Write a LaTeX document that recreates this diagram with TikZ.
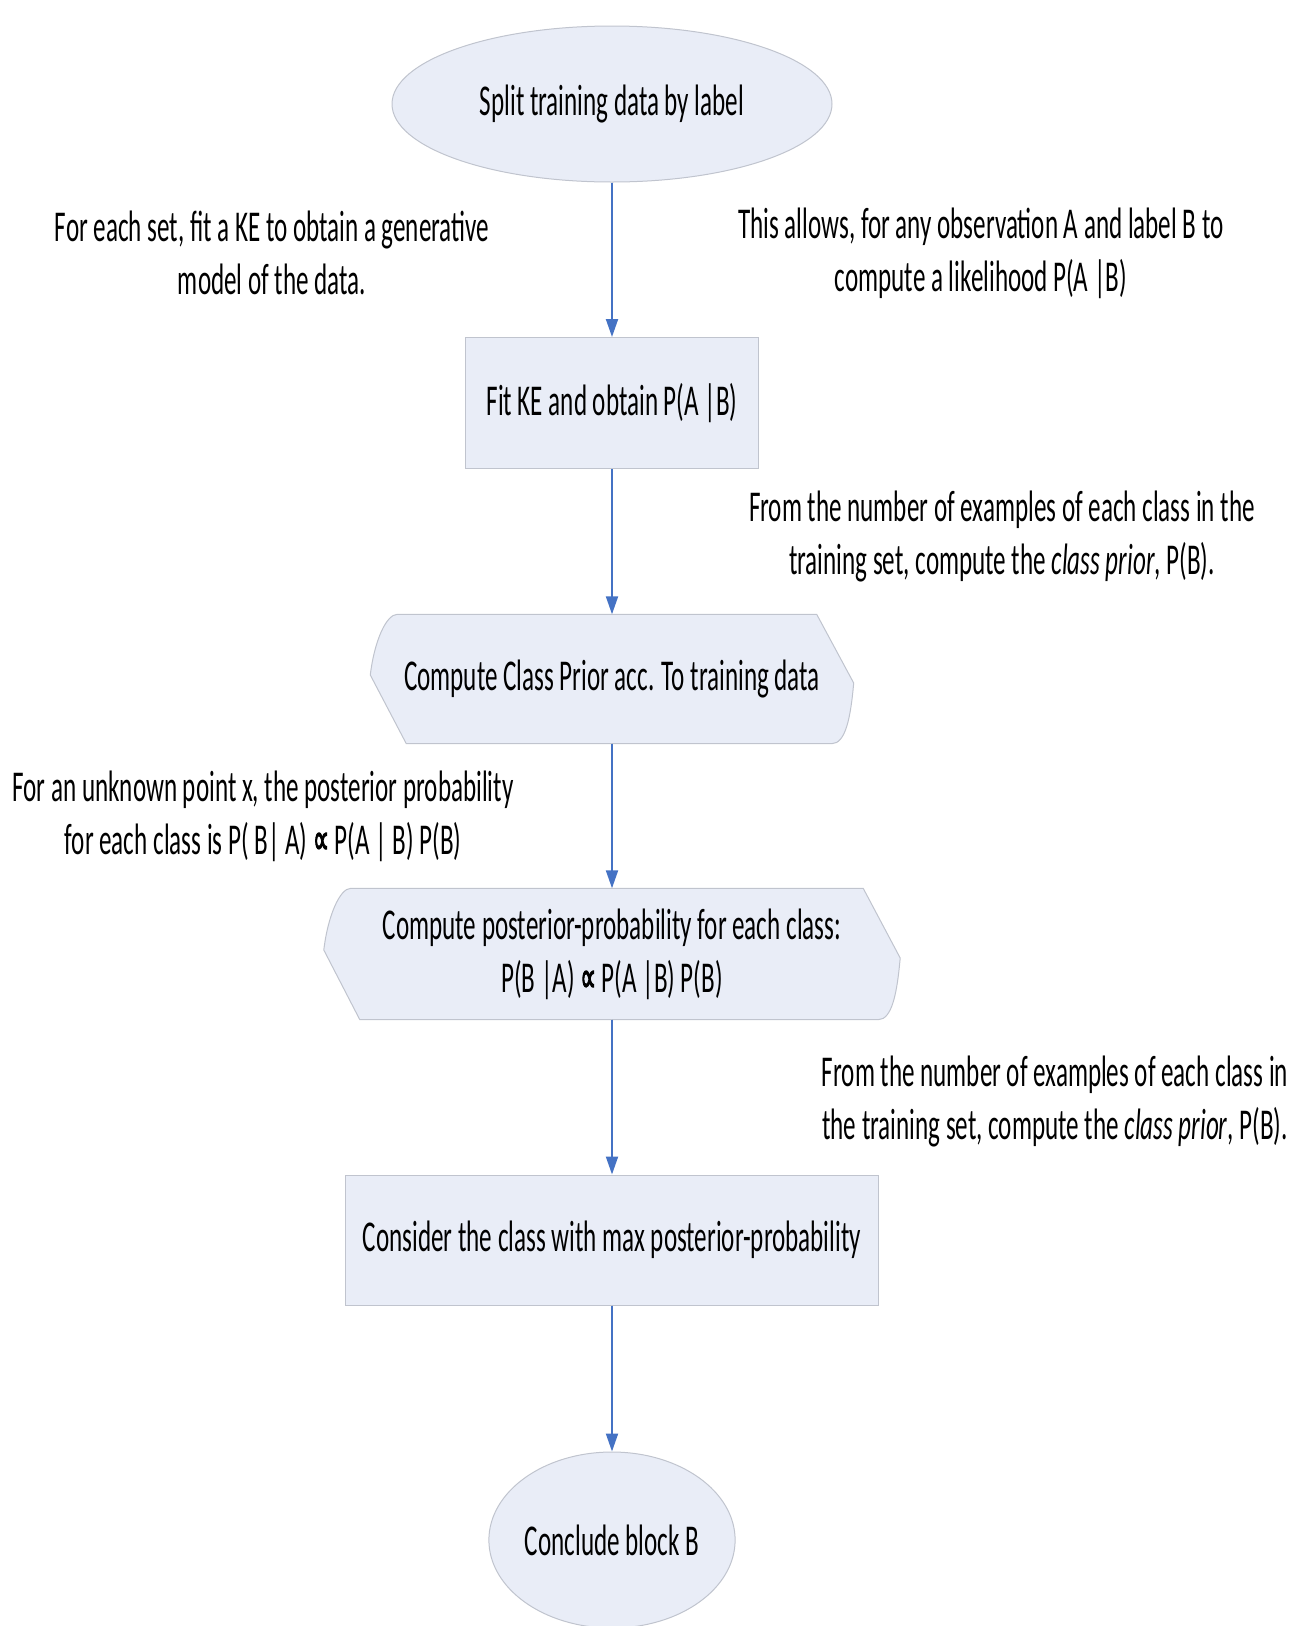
\documentclass[tikz,border=0pt]{standalone}
\usepackage{fontspec}
\setmainfont{Carlito}[FakeStretch=0.57]
\newfontfamily\symfont{DejaVu Sans}[FakeStretch=0.5,FakeBold=2]
\usetikzlibrary{arrows.meta,positioning,calc,shapes.geometric,backgrounds}

\definecolor{shapefill}{RGB}{233,237,247}
\definecolor{shapeline}{RGB}{192,196,206}
\definecolor{flowblue}{RGB}{68,114,196}

\newcommand{\propsym}{{\symfont ∝}}
% display shape drawn behind a named node
\newcommand{\dispshape}[1]{%
  \filldraw[fill=shapefill, draw=shapeline, line width=1pt]
    ($(#1.north west)+(27,0)$) -- ($(#1.north east)+(-37,0)$)
    -- ($(#1.east)+(0,4)$)
    .. controls ($(#1.east)+(-3,38)$) and ($(#1.south east)+(-8,0)$) .. ($(#1.south east)+(-22,0)$)
    -- ($(#1.south west)+(36,0)$) -- ($(#1.west)+(0,-4)$)
    .. controls ($(#1.west)+(4,-38)$) and ($(#1.north west)+(16,0)$) .. cycle;}

\tikzset{
  base/.style={font=\fontsize{44}{53}\selectfont, align=center, inner sep=0pt},
  oval/.style={base, ellipse, fill=shapefill, draw=shapeline, line width=1pt},
  box/.style={base, rectangle, fill=shapefill, draw=shapeline, line width=1pt},
  disp/.style={base},
  note/.style={base},
  flow/.style={-{Triangle[length=18pt,width=12pt]}, draw=flowblue, fill=flowblue, line width=2pt}
}

\begin{document}
\begin{tikzpicture}[x=1pt,y=-1pt]
  \useasboundingbox (0,0) rectangle (1308,1626);
  % Steps
  \node[oval, minimum width=440pt, minimum height=156pt] (split) at (612,104) {Split training data by label};
  \node[box, minimum width=293pt, minimum height=131pt] (fit) at (612,403) {Fit KE and obtain P(A |B)};
  \node[disp, minimum width=483pt, minimum height=129pt] (prior) at (612,679) {Compute Class Prior acc. To training data};
  \node[disp, minimum width=576pt, minimum height=131pt] (post) at (612,954) {Compute posterior-probability for each class:\\P(B |A) \propsym{} P(A |B) P(B)};
  \node[box, minimum width=533pt, minimum height=130pt] (pick) at (612,1240) {Consider the class with max posterior-probability};
  \node[oval, minimum width=242pt, minimum height=176pt] (conclude) at (612,1540) {Conclude block B};
  \begin{scope}[on background layer]
    \dispshape{prior}
    \dispshape{post}
  \end{scope}
  % Arrows
  \draw[flow] (split) -- (fit);
  \draw[flow] (fit) -- (prior);
  \draw[flow] (prior) -- (post);
  \draw[flow] (post) -- (pick);
  \draw[flow] (pick) -- (conclude);
  % Notes
  \node[note] (fitnote) at (272,253) {For each set, fit a KE to obtain a generative\\model of the data.};
  \node[note] (likenote) at (981,253) {This allows, for any observation A and label B to\\compute a likelihood P(A |B)};
  \node[note] (priornote) at (1002,536) {From the number of examples of each class in the\\training set, compute the \textit{class prior}, P(B).};
  \node[note] (postnote) at (263,816) {For an unknown point x, the posterior probability\\for each class is P( B| A) \propsym{} P(A | B) P(B)};
  \node[note] (picknote) at (1055,1101) {From the number of examples of each class in\\the training set, compute the \textit{class prior}, P(B).};
\end{tikzpicture}
\end{document}
